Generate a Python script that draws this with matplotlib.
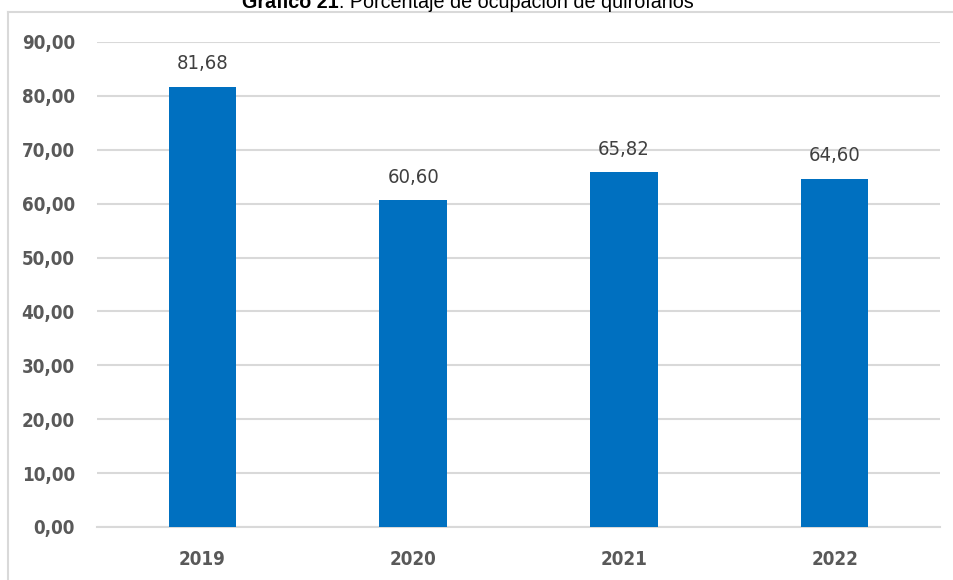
import os
import matplotlib.pyplot as plt
from matplotlib.lines import Line2D
from matplotlib import font_manager
from matplotlib.font_manager import FontProperties

# Datos: porcentaje de ocupación de quirófanos por año
years = ['2019', '2020', '2021', '2022']
occupancy = [81.68, 60.60, 65.82, 64.60]
y_ticks = [0, 10, 20, 30, 40, 50, 60, 70, 80, 90]

plt.rcParams['font.family'] = ['Liberation Sans', 'DejaVu Sans']


def narrow_font(bold, size):
    # busca una fuente estrecha/condensada instalada; si no hay, Liberation Sans
    files = [f.fname for f in font_manager.fontManager.ttflist]
    for pref in ['liberationsansnarrow', 'arialn', 'notosans-condensed', 'dejavusanscondensed']:
        for fn in files:
            base = os.path.basename(fn).lower().replace('_', '')
            if pref not in base or 'italic' in base or 'oblique' in base:
                continue
            is_bold = 'bold' in base and 'semibold' not in base and 'extrabold' not in base
            if is_bold != bold:
                continue
            if not bold and any(w in base for w in ['light', 'thin', 'medium', 'black', 'semi', 'extra']):
                continue
            return FontProperties(fname=fn, size=size)
    return FontProperties(family='Liberation Sans', weight='bold' if bold else 'normal', size=size)


def coma(v):
    return f'{v:.2f}'.replace('.', ',')


fig = plt.figure(figsize=(9.54, 5.80), dpi=100)
ax = fig.add_axes([0.1017, 0.0914, 0.8836, 0.8362])

x = range(len(years))
bars = ax.bar(x, occupancy, width=0.32, color='#0070c0', zorder=3)

label_fp = narrow_font(False, 14.5)
for b, v in zip(bars, occupancy):
    ax.text(b.get_x() + b.get_width() / 2, v + 3.3, coma(v), ha='center', va='baseline',
            fontproperties=label_fp, color='#404040')

tick_fp = narrow_font(True, 13.5)
ax.set_ylim(0, 90)
ax.set_xlim(-0.5, len(years) - 0.5)
ax.set_yticks(y_ticks)
ax.set_yticklabels([coma(t) for t in y_ticks], fontproperties=tick_fp, color='#595959')
ax.set_xticks(list(x))
ax.set_xticklabels(years, fontproperties=tick_fp, color='#595959')
ax.tick_params(axis='both', length=0)
ax.tick_params(axis='y', pad=16)
ax.tick_params(axis='x', pad=16.5)

ax.grid(axis='y', color='#d9d9d9', linewidth=1.5, zorder=0)
for side in ['top', 'right', 'left']:
    ax.spines[side].set_visible(False)
ax.spines['bottom'].set_color('#d9d9d9')
ax.spines['bottom'].set_linewidth(1.5)

# marco del gráfico (borde superior e izquierdo)
fig.add_artist(Line2D([8.5 / 954, 1], [1 - 11.5 / 580, 1 - 11.5 / 580], color='#d9d9d9', lw=1.5))
fig.add_artist(Line2D([8.5 / 954, 8.5 / 954], [0, 1 - 11.5 / 580], color='#d9d9d9', lw=1.5))

# título: parte en negrita y parte normal
title_y = 1 - 8 / 580
t1 = fig.text(0.0, title_y, 'Gráfico 21', ha='left', va='baseline', fontsize=14.2,
              fontweight='bold', color='#000000')
t2 = fig.text(0.0, title_y, ': Porcentaje de ocupación de quirófanos', ha='left', va='baseline',
              fontsize=14.2, color='#000000')
fig.canvas.draw()
r = fig.canvas.get_renderer()
w1 = t1.get_window_extent(r).width
w2 = t2.get_window_extent(r).width
x0 = 468 - (w1 + w2) / 2
t1.set_x(x0 / 954)
t2.set_x((x0 + w1) / 954)

fig.savefig('out.png', dpi=100)
